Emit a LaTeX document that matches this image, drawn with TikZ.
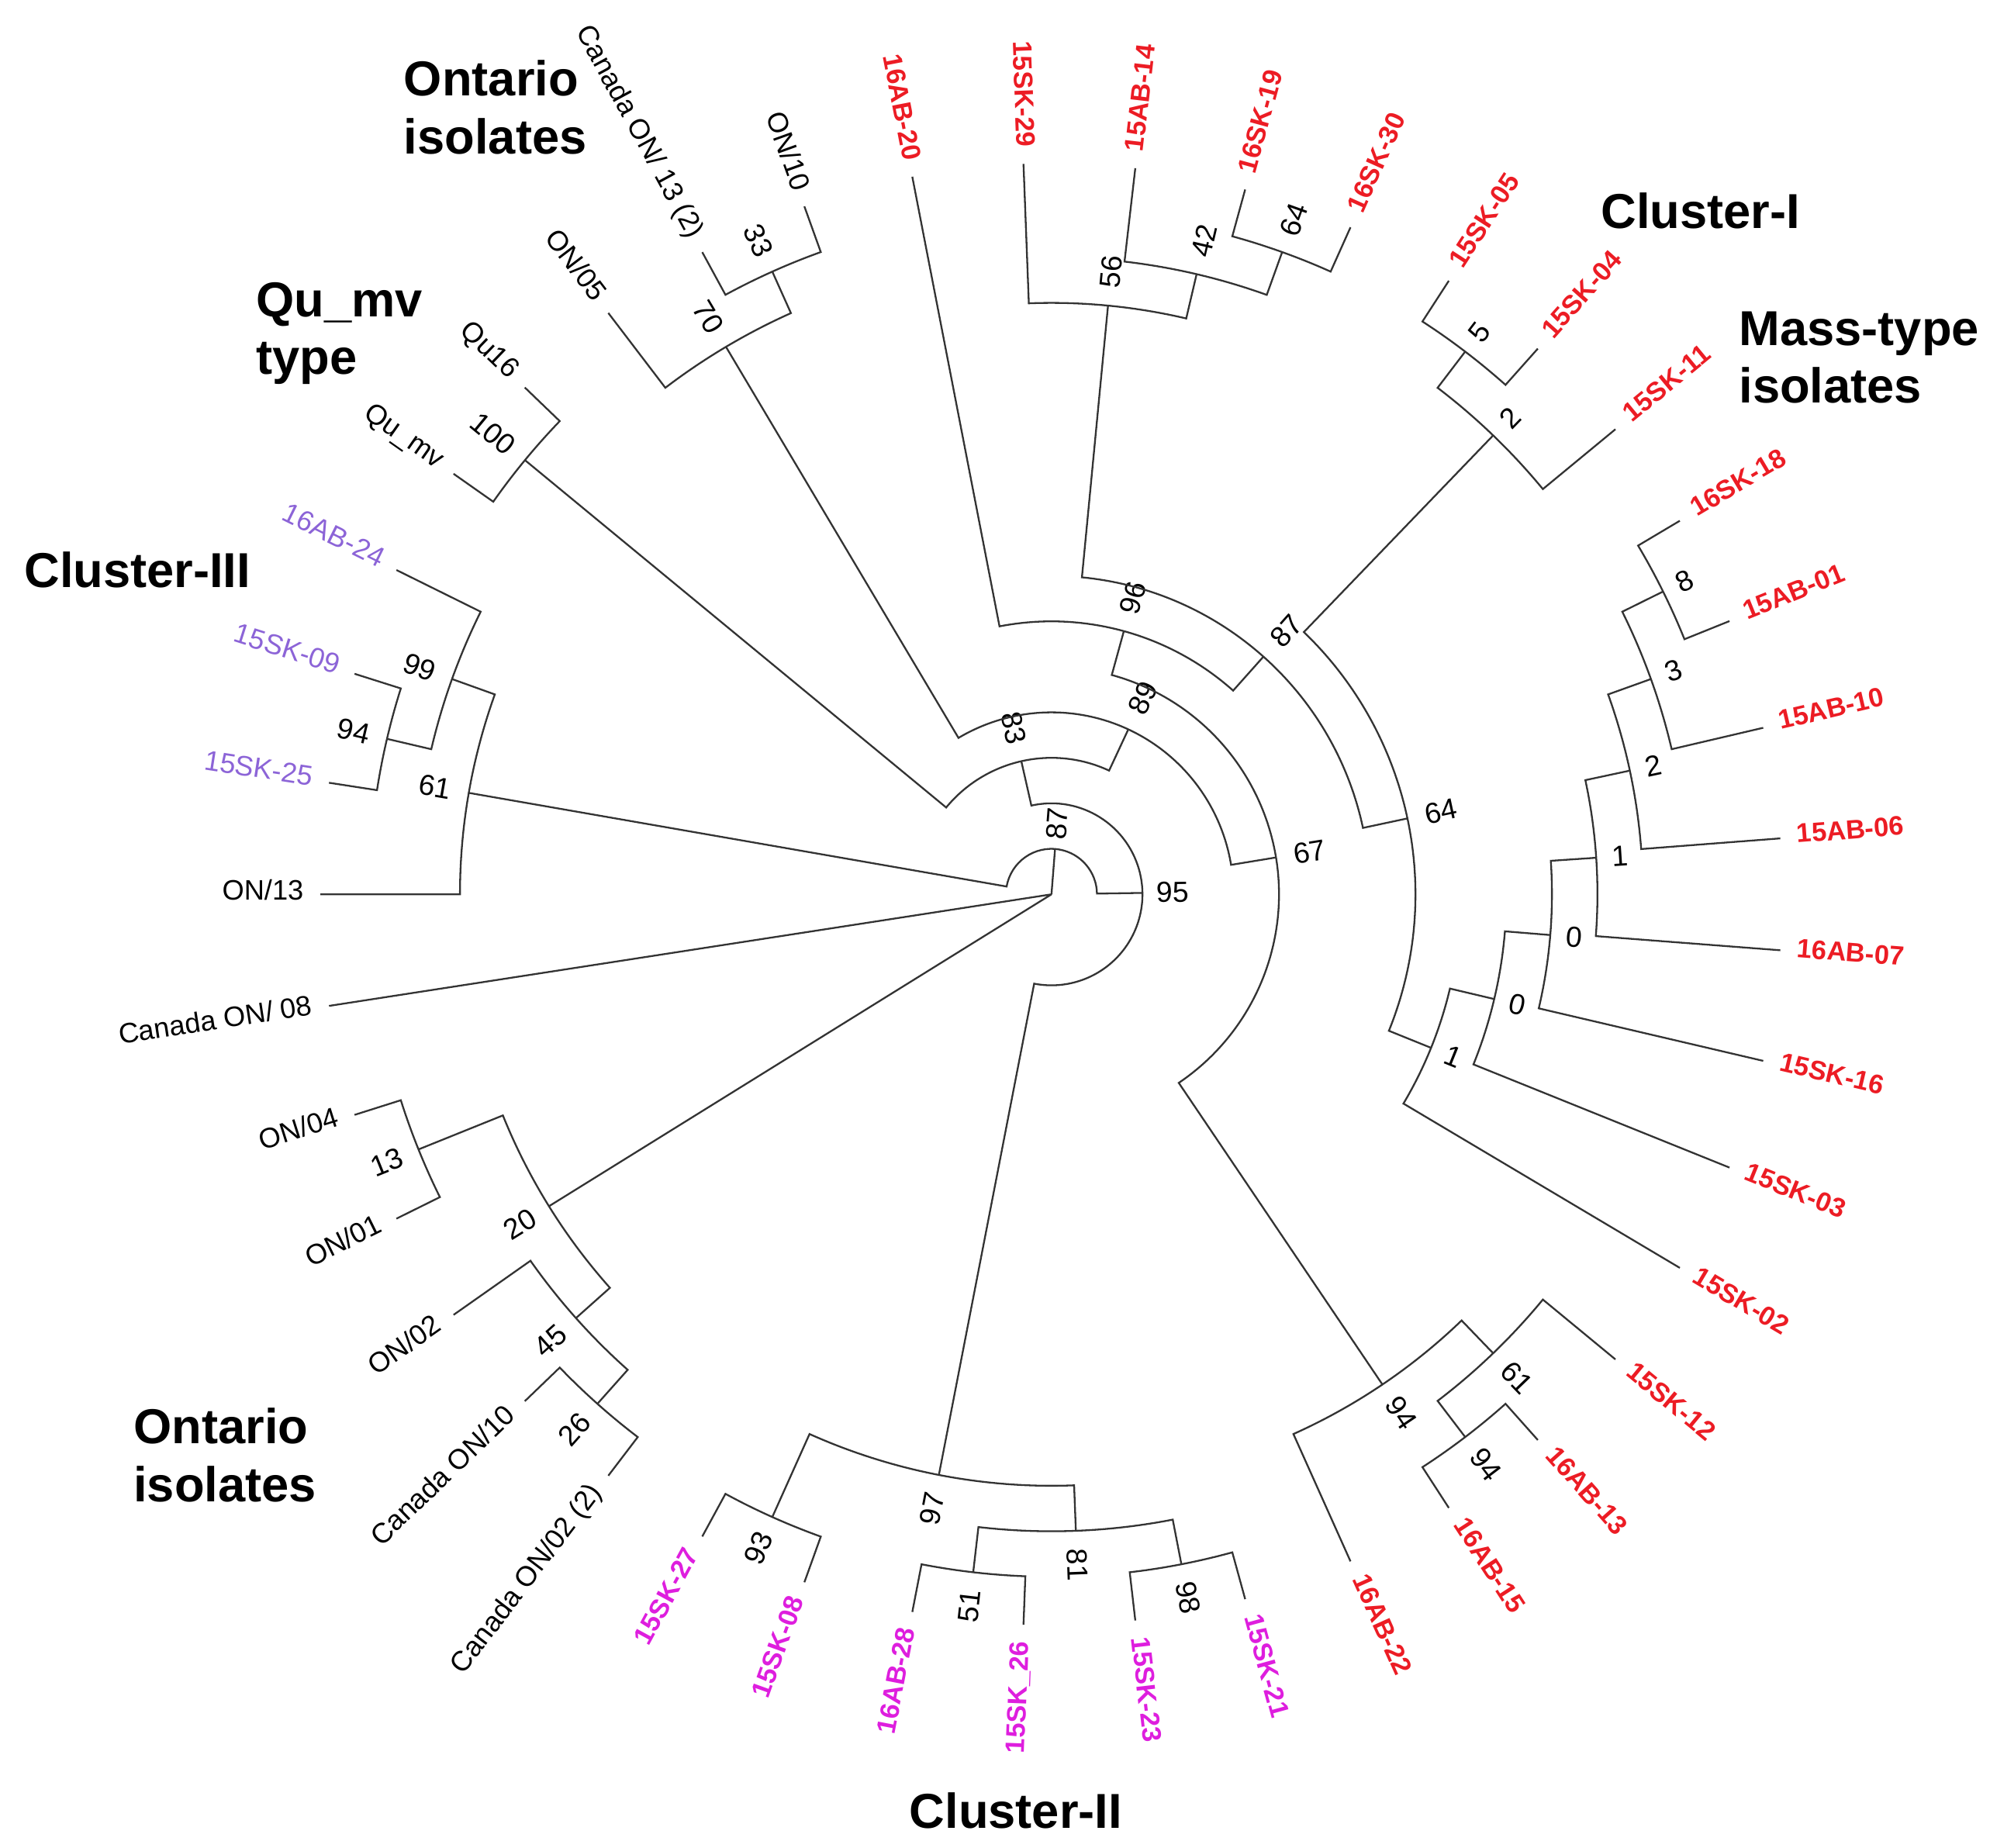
\documentclass[tikz,border=0pt]{standalone}
\usepackage{fontspec}
\setmainfont{Liberation Sans}
\definecolor{labred}{RGB}{236,28,36}
\definecolor{labmag}{RGB}{222,30,222}
\definecolor{labpur}{RGB}{140,100,215}
\def\dA{8.780488}% degrees per tip (360/41)
\def\dR{35.85}% radius of one level

% tip: name, index, level of parent, style, text
\newcommand\tipnode[5]{%
  \pgfmathsetmacro\tipA{180-#2*\dA}%
  \expandafter\xdef\csname pos#1\endcsname{#2}%
  \coordinate (#1) at (\tipA:576);
  \coordinate (#1-b) at (\tipA:{(16-#3)*\dR});
  \ifdim\tipA pt>90pt \def\tipR{\tipA+180}\def\tipN{mid east}%
  \else\ifdim\tipA pt<-90pt \def\tipR{\tipA+180}\def\tipN{mid east}%
  \else\def\tipR{\tipA}\def\tipN{mid west}\fi\fi
  \node[#4, rotate=\tipR, anchor=\tipN] (#1-t) at (\tipA:589) {#5};}

% inner node: name, position, level, level of parent, bootstrap, gap
\newcommand\bootnode[6]{%
  \pgfmathsetmacro\nodA{180-#2*\dA}%
  \expandafter\xdef\csname pos#1\endcsname{#2}%
  \expandafter\xdef\csname ht#1\endcsname{#3}%
  \coordinate (#1) at (\nodA:{(16-#3)*\dR});
  \coordinate (#1-b) at (\nodA:{(16-#4)*\dR});
  \ifdim\nodA pt>90pt \def\nodR{\nodA+180}%
  \else\ifdim\nodA pt<-90pt \def\nodR{\nodA+180}%
  \else\def\nodR{\nodA}\fi\fi
  \node[boot, rotate=\nodR] (#1-t) at (\nodA:{(16-#3)*\dR+#6}) {#5};}

% clade: parent, first child, second child
\newcommand\clade[3]{%
  \draw[branch] (#2) -- (#2-b)
    arc[start angle={180-\csname pos#2\endcsname*\dA},
        end angle={180-\csname pos#3\endcsname*\dA},
        radius={(16-\csname ht#1\endcsname)*\dR*0.2mm}] -- (#3);}

\begin{document}
\begin{tikzpicture}[x=0.2mm, y=0.2mm,
    branch/.style={draw=black!80, line width=0.8pt},
    boot/.style={font=\fontsize{13}{15}\selectfont, inner sep=0pt},
    onlbl/.style={font=\fontsize{12.6}{14}\selectfont, inner sep=0pt},
    masslbl/.style={font=\fontsize{12}{14}\selectfont\bfseries, text=labred, inner sep=0pt},
    clIIlbl/.style={font=\fontsize{12}{14}\selectfont\bfseries, text=labmag, inner sep=0pt},
    clIIIlbl/.style={font=\fontsize{12.6}{14}\selectfont, text=labpur, inner sep=0pt},
    grouplbl/.style={font=\fontsize{22}{26}\selectfont\bfseries, align=left, inner sep=0pt, anchor=north west}]
  \useasboundingbox (-828.5,-751.3) rectangle (739.5,704.7);
  \coordinate (root) at (0,0);

  % tips
  \tipnode{on13}{0}{3}{onlbl}{ON/13}
  \tipnode{sk25}{1}{1}{clIIIlbl}{15SK-25}
  \tipnode{sk09}{2}{1}{clIIIlbl}{15SK-09}
  \tipnode{ab24}{3}{2}{clIIIlbl}{16AB-24}
  \tipnode{qumv}{4}{1}{onlbl}{Qu\_mv}
  \tipnode{qu16}{5}{1}{onlbl}{Qu16}
  \tipnode{on05}{6}{2}{onlbl}{ON/05}
  \tipnode{con13}{7}{1}{onlbl}{Canada ON/ 13 (2)}
  \tipnode{on10}{8}{1}{onlbl}{ON/10}
  \tipnode{ab20}{9}{10}{masslbl}{16AB-20}
  \tipnode{sk29}{10}{3}{masslbl}{15SK-29}
  \tipnode{ab14}{11}{2}{masslbl}{15AB-14}
  \tipnode{sk19}{12}{1}{masslbl}{16SK-19}
  \tipnode{sk30}{13}{1}{masslbl}{16SK-30}
  \tipnode{sk05}{14}{1}{masslbl}{15SK-05}
  \tipnode{sk04}{15}{1}{masslbl}{15SK-04}
  \tipnode{sk11}{16}{2}{masslbl}{15SK-11}
  \tipnode{sk18}{17}{1}{masslbl}{16SK-18}
  \tipnode{ab01}{18}{1}{masslbl}{15AB-01}
  \tipnode{ab10}{19}{2}{masslbl}{15AB-10}
  \tipnode{ab06}{20}{3}{masslbl}{15AB-06}
  \tipnode{ab07}{21}{4}{masslbl}{16AB-07}
  \tipnode{sk16}{22}{5}{masslbl}{15SK-16}
  \tipnode{sk03}{23}{6}{masslbl}{15SK-03}
  \tipnode{sk02}{24}{7}{masslbl}{15SK-02}
  \tipnode{sk12}{25}{2}{masslbl}{15SK-12}
  \tipnode{ab13}{26}{1}{masslbl}{16AB-13}
  \tipnode{ab15}{27}{1}{masslbl}{16AB-15}
  \tipnode{ab22}{28}{3}{masslbl}{16AB-22}
  \tipnode{sk21}{29}{1}{clIIlbl}{15SK-21}
  \tipnode{sk23}{30}{1}{clIIlbl}{15SK-23}
  \tipnode{sk26}{31}{1}{clIIlbl}{15SK\_26}
  \tipnode{ab28}{32}{1}{clIIlbl}{16AB-28}
  \tipnode{sk08}{33}{1}{clIIlbl}{15SK-08}
  \tipnode{sk27}{34}{1}{clIIlbl}{15SK-27}
  \tipnode{con02}{35}{1}{onlbl}{Canada ON/02 (2)}
  \tipnode{con10}{36}{1}{onlbl}{Canada ON/10}
  \tipnode{on02}{37}{2}{onlbl}{ON/02}
  \tipnode{on01}{38}{1}{onlbl}{ON/01}
  \tipnode{on04}{39}{1}{onlbl}{ON/04}
  \tipnode{con08}{40}{16}{onlbl}{Canada ON/ 08}

  % inner nodes
  \bootnode{n94a}{1.5}{1}{2}{94}{27}
  \bootnode{n99}{2.25}{2}{3}{99}{27}
  \bootnode{n61}{1.125}{3}{15}{61}{27}
  \bootnode{n100}{4.5}{1}{13}{100}{33}
  \bootnode{n33}{7.5}{1}{2}{33}{27}
  \bootnode{n70}{6.75}{2}{12}{70}{27}
  \bootnode{n64b}{12.5}{1}{2}{64}{27}
  \bootnode{n42}{11.75}{2}{3}{42}{27}
  \bootnode{n56}{10.875}{3}{9}{56}{27}
  \bootnode{n5}{14.5}{1}{2}{5}{19}
  \bootnode{n2a}{15.25}{2}{8}{2}{19}
  \bootnode{n8}{17.5}{1}{2}{8}{19}
  \bootnode{n3}{18.25}{2}{3}{3}{19}
  \bootnode{n2b}{19.125}{3}{4}{2}{19}
  \bootnode{n1a}{20.0625}{4}{5}{1}{19}
  \bootnode{n0a}{21.03125}{5}{6}{0}{19}
  \bootnode{n0b}{22.015625}{6}{7}{0}{19}
  \bootnode{n1b}{23.0078125}{7}{8}{1}{19}
  \bootnode{n64}{19.12890625}{8}{9}{64}{27}
  \bootnode{n87}{15.001953}{9}{10}{87}{27}
  \bootnode{n96}{12.000977}{10}{11}{96}{27}
  \bootnode{n94c}{26.5}{1}{2}{94}{27}
  \bootnode{n61b}{25.75}{2}{3}{61}{27}
  \bootnode{n94b}{26.875}{3}{11}{94}{27}
  \bootnode{n67}{19.437988}{11}{12}{67}{27}
  \bootnode{n89}{13.093994}{12}{13}{89}{27}
  \bootnode{n83}{8.796997}{13}{14}{83}{27}
  \bootnode{n98}{29.5}{1}{2}{98}{27}
  \bootnode{n51}{31.5}{1}{2}{51}{27}
  \bootnode{n81}{30.5}{2}{3}{81}{27}
  \bootnode{n93}{33.5}{1}{3}{93}{27}
  \bootnode{n97}{32}{3}{14}{97}{27}
  \bootnode{n95}{20.398499}{14}{15}{95}{24}
  \bootnode{n87a}{10.761749}{15}{16}{87}{20}
  \bootnode{n13}{38.5}{1}{3}{13}{27}
  \bootnode{n26}{35.5}{1}{2}{26}{27}
  \bootnode{n45}{36.25}{2}{3}{45}{27}
  \bootnode{n20}{37.375}{3}{16}{20}{27}

  % branches
  \clade{n94a}{sk25}{sk09}
  \clade{n99}{n94a}{ab24}
  \clade{n61}{on13}{n99}
  \clade{n100}{qumv}{qu16}
  \clade{n33}{con13}{on10}
  \clade{n70}{on05}{n33}
  \clade{n64b}{sk19}{sk30}
  \clade{n42}{ab14}{n64b}
  \clade{n56}{sk29}{n42}
  \clade{n5}{sk05}{sk04}
  \clade{n2a}{n5}{sk11}
  \clade{n8}{sk18}{ab01}
  \clade{n3}{n8}{ab10}
  \clade{n2b}{n3}{ab06}
  \clade{n1a}{n2b}{ab07}
  \clade{n0a}{n1a}{sk16}
  \clade{n0b}{n0a}{sk03}
  \clade{n1b}{n0b}{sk02}
  \clade{n64}{n2a}{n1b}
  \clade{n87}{n56}{n64}
  \clade{n96}{ab20}{n87}
  \clade{n94c}{ab13}{ab15}
  \clade{n61b}{sk12}{n94c}
  \clade{n94b}{n61b}{ab22}
  \clade{n67}{n96}{n94b}
  \clade{n89}{n70}{n67}
  \clade{n83}{n100}{n89}
  \clade{n98}{sk21}{sk23}
  \clade{n51}{sk26}{ab28}
  \clade{n81}{n98}{n51}
  \clade{n93}{sk08}{sk27}
  \clade{n97}{n81}{n93}
  \clade{n95}{n83}{n97}
  \clade{n87a}{n61}{n95}
  \clade{n13}{on01}{on04}
  \clade{n26}{con02}{con10}
  \clade{n45}{n26}{on02}
  \clade{n20}{n45}{n13}
  \draw[branch] (root) -- (n87a) (root) -- (con08) (root) -- (n20);

  % group names
  \node[grouplbl] (onttop) at (-510.5,657.7) {Ontario\\isolates};
  \node[grouplbl] (qutype) at (-626.9,482.7) {Qu\_mv\\type};
  \node[grouplbl] (cl3) at (-809.7,270.4) {Cluster-III};
  \node[grouplbl] (cl1) at (432.6,553.2) {Cluster-I};
  \node[grouplbl] (masstype) at (541.5,459.7) {Mass-type\\isolates};
  \node[grouplbl] (ontbot) at (-723.5,-404.5) {Ontario\\isolates};
  \node[grouplbl] (cl2) at (-112.2,-707.6) {Cluster-II};
\end{tikzpicture}
\end{document}
